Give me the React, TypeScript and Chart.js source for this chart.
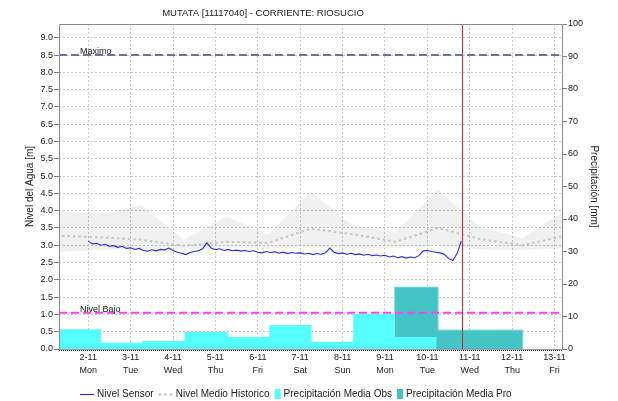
import React, { useEffect, useRef } from 'react';
import { Chart, registerables } from 'chart.js';

Chart.register(...registerables);

// ---------------- data ----------------
const chartTitle = 'MUTATA [11117040] - CORRIENTE: RIOSUCIO';
const monthLabel = '11';
const dayNumbers = [2, 3, 4, 5, 6, 7, 8, 9, 10, 11, 12, 13];
const weekdays = ['Mon', 'Tue', 'Wed', 'Thu', 'Fri', 'Sat', 'Sun', 'Mon', 'Tue', 'Wed', 'Thu', 'Fri'];
const xMin = 1.31;
const xMax = 13.2;
const levelMax = 9.4;
const precipMax = 100;
const nowDay = 10.81;

const maximoLevel = 8.5;
const bajoLevel = 1.05;

// Nivel Sensor: one reading every 0.1 day starting at day 2.0
const sensorStart = 2.0;
const sensorStep = 0.1;
const sensorLevels = [
  3.12, 3.04, 3.06, 3.0, 3.03, 2.97, 2.99, 2.94, 2.97, 2.91,
  2.93, 2.88, 2.91, 2.85, 2.83, 2.87, 2.84, 2.88, 2.86, 2.92,
  2.85, 2.8, 2.77, 2.73, 2.79, 2.82, 2.84, 2.9, 3.07, 2.92,
  2.87, 2.9, 2.85, 2.88, 2.84, 2.86, 2.83, 2.85, 2.82, 2.84,
  2.8, 2.78, 2.82, 2.79, 2.81, 2.77, 2.8, 2.76, 2.79, 2.77,
  2.78, 2.75, 2.77, 2.73, 2.76, 2.74, 2.78, 2.92, 2.8, 2.76,
  2.78, 2.74, 2.77, 2.73, 2.75, 2.71, 2.74, 2.7, 2.72, 2.69,
  2.71, 2.66, 2.69, 2.64, 2.67, 2.63, 2.66, 2.64, 2.7, 2.84,
  2.85, 2.82, 2.8, 2.78, 2.74, 2.62, 2.56, 2.76, 3.12,
];

// Historical statistics (daily)
const histDays = [1.25, 2.25, 3.25, 4.25, 5.25, 6.25, 7.25, 8.25, 9.25, 10.25, 11.25, 12.25, 13.25];
const histUpper = [4.0, 3.89, 4.16, 3.16, 3.84, 3.31, 4.56, 3.55, 3.38, 4.61, 3.52, 3.21, 4.0];
const histLower = [2.8, 2.86, 2.9, 2.88, 2.94, 2.9, 2.94, 2.9, 2.92, 3.0, 2.88, 2.86, 2.92];
const histMean = [3.28, 3.23, 3.16, 2.99, 3.1, 3.07, 3.48, 3.32, 3.1, 3.5, 3.18, 3.0, 3.28];

// Precipitation (mm): interval edges and values
const obsEdges = [1.0, 2.3, 3.27, 4.27, 5.3, 6.27, 7.27, 8.25, 9.22, 10.22];
const obsValues = [6.1, 1.9, 2.5, 5.2, 3.7, 7.4, 2.2, 10.8, 3.7];
const proEdges = [9.22, 10.25, 11.25, 12.25];
const proValues = [19.0, 5.8, 5.8];

// ---------------- styles ----------------
const FONT = '"Liberation Sans", Arial, sans-serif';
const obsColor = '#55ffff';
const proColor = '#44c4c4';
const gridColor = '#c8c8c8';
const textColor = '#222';

const stepData = (edges: number[], values: number[]) => {
  const pts = values.map((v, i) => ({ x: edges[i], y: v }));
  pts.push({ x: edges[edges.length - 1], y: 0 });
  return pts;
};

const overlayPlugin = {
  id: 'overlay',
  afterDatasetsDraw(chart: any) {
    const { ctx, chartArea: a, scales } = chart;
    const xs = scales.x;
    const ys = scales.y;
    ctx.save();
    // threshold labels
    ctx.font = `9px ${FONT}`;
    ctx.fillStyle = textColor;
    ctx.textBaseline = 'alphabetic';
    ctx.textAlign = 'left';
    ctx.fillText('Maximo', a.left + 21, ys.getPixelForValue(maximoLevel) - 1);
    ctx.fillText('Nivel Bajo', a.left + 21, ys.getPixelForValue(bajoLevel) - 1);
    // now line
    const nx = Math.round(xs.getPixelForValue(nowDay)) + 0.5;
    ctx.strokeStyle = '#e02020';
    ctx.lineWidth = 1;
    ctx.beginPath();
    ctx.moveTo(nx, a.top);
    ctx.lineTo(nx, a.bottom);
    ctx.stroke();
    // frame
    ctx.strokeStyle = '#8a8a8a';
    ctx.beginPath();
    ctx.moveTo(a.left + 0.5, a.bottom);
    ctx.lineTo(a.left + 0.5, a.top + 0.5);
    ctx.lineTo(a.right - 0.5, a.top + 0.5);
    ctx.lineTo(a.right - 0.5, a.bottom);
    ctx.stroke();
    ctx.strokeStyle = '#9a9a9a';
    ctx.beginPath();
    ctx.moveTo(a.left, a.bottom + 0.5);
    ctx.lineTo(a.right, a.bottom + 0.5);
    ctx.stroke();
    ctx.strokeStyle = '#333';
    ctx.setLineDash([1, 1]);
    ctx.beginPath();
    ctx.moveTo(a.left, a.bottom + 1.5);
    ctx.lineTo(a.right, a.bottom + 1.5);
    ctx.stroke();
    ctx.restore();
  },
  afterDraw(chart: any) {
    const { ctx } = chart;
    ctx.save();
    // title
    ctx.font = `9.5px ${FONT}`;
    ctx.fillStyle = textColor;
    ctx.textAlign = 'center';
    ctx.textBaseline = 'middle';
    ctx.fillText(chartTitle, 263, 13);
    // legend
    ctx.font = `10px ${FONT}`;
    ctx.textAlign = 'left';
    let cx = 80;
    const cy = 394;
    chart.data.datasets.forEach((ds: any) => {
      if (!ds.legendKind) return;
      if (ds.legendKind === 'line') {
        ctx.strokeStyle = ds.borderColor;
        ctx.lineWidth = ds.borderWidth;
        ctx.setLineDash(ds.borderDash || []);
        ctx.beginPath();
        ctx.moveTo(cx, cy + 0.5);
        ctx.lineTo(cx + 14, cy + 0.5);
        ctx.stroke();
        ctx.setLineDash([]);
        cx += 14;
      } else {
        ctx.fillStyle = ds.backgroundColor;
        ctx.fillRect(cx, cy - 5, 6, 10);
        cx += 6;
      }
      cx += 3;
      ctx.fillStyle = textColor;
      ctx.fillText(ds.label, cx, cy);
      cx += ctx.measureText(ds.label).width + 5;
    });
    ctx.restore();
  },
};

export default function App() {
  const ref = useRef<HTMLCanvasElement>(null);
  useEffect(() => {
    document.body.style.margin = '0';
    Chart.defaults.font.family = FONT;
    const datasets: any[] = [
      {
        label: 'Nivel Sensor',
        legendKind: 'line',
        data: sensorLevels.map((v, i) => ({ x: sensorStart + i * sensorStep, y: v })),
        borderColor: '#2828ff',
        borderWidth: 1.1,
        pointRadius: 0,
        yAxisID: 'y',
        fill: false,
      },
      {
        label: 'Nivel Medio Historico',
        legendKind: 'line',
        data: histDays.map((d, i) => ({ x: d, y: histMean[i] })),
        borderColor: '#c6c6c6',
        borderWidth: 2,
        borderDash: [2.5, 3],
        pointRadius: 0,
        yAxisID: 'y',
        fill: false,
      },
      {
        label: 'Maximo',
        data: [{ x: xMin, y: maximoLevel }, { x: xMax, y: maximoLevel }],
        borderColor: '#6872a8',
        borderWidth: 2,
        borderDash: [8, 4],
        pointRadius: 0,
        yAxisID: 'y',
        fill: false,
      },
      {
        label: 'Nivel Bajo',
        data: [{ x: xMin, y: bajoLevel }, { x: xMax, y: bajoLevel }],
        borderColor: '#ff40ff',
        borderWidth: 2,
        borderDash: [8, 4],
        pointRadius: 0,
        yAxisID: 'y',
        fill: false,
      },
      {
        label: 'Max Historico',
        data: histDays.map((d, i) => ({ x: d, y: histUpper[i] })),
        borderColor: 'transparent',
        borderWidth: 0,
        backgroundColor: 'rgba(0,0,0,0.06)',
        pointRadius: 0,
        yAxisID: 'y',
        fill: '+1',
      },
      {
        label: 'Min Historico',
        data: histDays.map((d, i) => ({ x: d, y: histLower[i] })),
        borderColor: 'transparent',
        borderWidth: 0,
        pointRadius: 0,
        yAxisID: 'y',
        fill: false,
      },
      {
        label: 'Precipitación Media Obs',
        legendKind: 'box',
        data: stepData(obsEdges, obsValues),
        stepped: true,
        borderColor: 'transparent',
        borderWidth: 0,
        backgroundColor: obsColor,
        pointRadius: 0,
        yAxisID: 'y1',
        fill: 'origin',
      },
      {
        label: 'Precipitación Media Pro',
        legendKind: 'box',
        data: stepData(proEdges, proValues),
        stepped: true,
        borderColor: '#66d2d2',
        borderWidth: 1,
        backgroundColor: proColor,
        pointRadius: 0,
        yAxisID: 'y1',
        fill: 'origin',
      },
    ];

    const chart = new Chart(ref.current as HTMLCanvasElement, {
      type: 'line',
      data: { datasets },
      plugins: [overlayPlugin],
      options: {
        responsive: false,
        animation: false,
        devicePixelRatio: 1,
        layout: { padding: { top: 24, left: 0, right: 0, bottom: 0 } },
        plugins: { legend: { display: false }, title: { display: false }, tooltip: { enabled: false } },
        scales: {
          x: {
            type: 'linear',
            min: xMin,
            max: xMax,
            afterBuildTicks: (s: any) => {
              s.ticks = dayNumbers.map((d) => ({ value: d }));
            },
            afterFit: (s: any) => {
              s.height = 52;
            },
            grid: { color: gridColor, drawTicks: false, lineWidth: 1 },
            border: { display: false, dash: [2, 2] },
            ticks: {
              color: textColor,
              font: { size: 9, lineHeight: 13 / 9 },
              padding: 2,
              maxRotation: 0,
              autoSkip: false,
              callback: (v: any) => {
                const i = dayNumbers.indexOf(Number(v));
                return i < 0 ? '' : [`${v}-${monthLabel}`, weekdays[i]];
              },
            },
          },
          y: {
            type: 'linear',
            position: 'left',
            min: 0,
            max: levelMax,
            afterFit: (s: any) => {
              s.width = 59;
            },
            ticks: {
              stepSize: 0.5,
              includeBounds: false,
              color: textColor,
              font: { size: 9 },
              padding: 1,
              callback: (v: any) => Number(v).toFixed(1),
            },
            grid: { color: gridColor, tickColor: '#808080', tickLength: 5, tickBorderDash: [] },
            border: { display: false, dash: [2, 2] },
            title: {
              display: true,
              text: 'Nivel del Agua [m]',
              color: textColor,
              font: { size: 10 },
              padding: { top: 24, bottom: 0 },
            },
          },
          y1: {
            type: 'linear',
            position: 'right',
            min: 0,
            max: precipMax,
            afterFit: (s: any) => {
              s.width = 55;
            },
            ticks: { stepSize: 10, color: textColor, font: { size: 9 }, padding: 1 },
            grid: { drawOnChartArea: false, tickColor: '#808080', tickLength: 4 },
            border: { display: false },
            title: {
              display: true,
              text: 'Precipitación [mm]',
              color: textColor,
              font: { size: 10 },
              padding: { top: 18, bottom: 0 },
            },
          },
        },
      } as any,
    });
    return () => chart.destroy();
  }, []);

  return (
    <div style={{ width: 618, height: 401 }}>
      <canvas ref={ref} width={618} height={401} style={{ display: 'block' }} />
    </div>
  );
}
